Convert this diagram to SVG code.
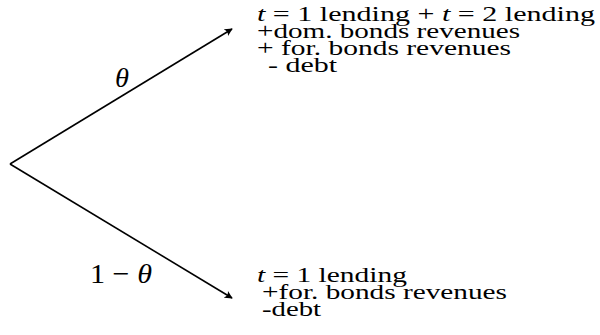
<svg xmlns="http://www.w3.org/2000/svg" width="600" height="335" viewBox="0 0 600 335">
<style>
text{font-family:"Liberation Serif","DejaVu Serif",serif;font-size:22px;fill:#000}
.m{font-size:28px}
.i{font-style:italic}
.c{stroke:#000;stroke-width:1.6;fill:none}
</style>
<defs>
<marker id="ah" viewBox="0 0 10 10" refX="9" refY="5" markerWidth="8" markerHeight="8" markerUnits="userSpaceOnUse" orient="auto">
<path d="M0,0 Q4,5 0,10 L10,5 Z" fill="#000"/>
</marker>
</defs>
<rect width="600" height="335" fill="#fff"/>
<g id="connectors">
<line class="c" x1="10" y1="164" x2="232" y2="29" marker-end="url(#ah)"/>
<line class="c" x1="10" y1="164" x2="232" y2="298" marker-end="url(#ah)"/>
<text x="115" y="87" class="m i" textLength="14" lengthAdjust="spacingAndGlyphs">θ</text>
<text x="90" y="283" class="m" textLength="62" lengthAdjust="spacingAndGlyphs">1 − <tspan class="i">θ</tspan></text>
</g>
<g id="upper">
<text x="257" y="21" textLength="338" lengthAdjust="spacingAndGlyphs"><tspan class="i">t</tspan> = 1 lending + <tspan class="i">t</tspan> = 2 lending</text>
<text x="257" y="38" textLength="263" lengthAdjust="spacingAndGlyphs">+dom. bonds revenues</text>
<text x="257" y="55" textLength="254" lengthAdjust="spacingAndGlyphs">+ for. bonds revenues</text>
<text x="268" y="72" textLength="69" lengthAdjust="spacingAndGlyphs">- debt</text>
</g>
<g id="lower">
<text x="257" y="282" textLength="150" lengthAdjust="spacingAndGlyphs"><tspan class="i">t</tspan> = 1 lending</text>
<text x="262" y="299" textLength="245" lengthAdjust="spacingAndGlyphs">+for. bonds revenues</text>
<text x="262" y="316" textLength="59" lengthAdjust="spacingAndGlyphs">-debt</text>
</g>
</svg>
